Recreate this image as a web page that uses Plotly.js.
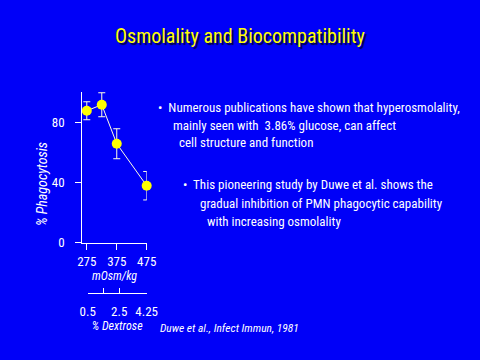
<!DOCTYPE html>
<html><head><meta charset="utf-8">
<script src="https://cdn.plot.ly/plotly-3.0.1.min.js"></script>
<style>
html,body{margin:0;padding:0;background:#0000f8;}
.gtitle{text-shadow:2px 2px 1px #000040;}
</style>
</head><body>
<div id="chart" style="width:480px;height:360px"></div>
<script>
// Data (Duwe et al., 1981)
const osmolality = [275, 325, 375, 475];
const phagocytosis = [88, 92, 66, 38];
const phagocytosisErr = [6, 8, 10, 9.5];
const osmTickVals = [275, 375, 475];
const osmTickText = ["275", "375", "475"];
const phagTickVals = [0, 40, 80];
const phagTickText = ["0", "40", "80"];
const dextroseTickVals = [0.5, 1.5, 2.5, 4.25];
const dextroseTickText = ["0.5", "", "2.5", "4.25"];

const titleText = "Osmolality and Biocompatibility";
const yTitleText = "% Phagocytosis";
const bulletOneLines = [
  "•  Numerous publications have shown that hyperosmolality,",
  "mainly seen with  3.86% glucose, can affect",
  "cell structure and function"
];
const bulletTwoLines = [
  "•  This pioneering study by Duwe et al. shows the",
  "gradual inhibition of PMN phagocytic capability",
  "with increasing osmolality"
];
const citation = "Duwe et al., Infect Immun, 1981";

const NARROW = '"Roboto Condensed", "Liberation Sans Narrow", sans-serif';
const W = 480, H = 360;
const px = x => x / W;
const py = y => 1 - y / H;

const traces = [
  {
    x: osmolality, y: phagocytosis, xaxis: 'x', yaxis: 'y',
    type: 'scatter', mode: 'lines+markers',
    line: {color: '#ffffe0', width: 1},
    marker: {color: '#ffff00', size: 10},
    error_y: {type: 'data', array: phagocytosisErr, visible: true, color: '#ffffe0', thickness: 1, width: 3.5},
    cliponaxis: false, hoverinfo: 'none'
  },
  {
    x: [dextroseTickVals[0]], y: [null], xaxis: 'x2', yaxis: 'y',
    type: 'scatter', mode: 'markers', showlegend: false, hoverinfo: 'none'
  }
];

const bodyFont = {family: NARROW, size: 13, color: '#ffffff'};
const annotations = [];
const b1x = [156, 171, 177], b1y = [107, 125, 143];
const b2x = [181, 198, 205], b2y = [184, 203, 221];
bulletOneLines.forEach((t, i) => annotations.push({
  text: t, xref: 'paper', yref: 'paper', x: px(b1x[i]), y: py(b1y[i]),
  xanchor: 'left', yanchor: 'middle', showarrow: false, font: bodyFont
}));
bulletTwoLines.forEach((t, i) => annotations.push({
  text: t, xref: 'paper', yref: 'paper', x: px(b2x[i]), y: py(b2y[i]),
  xanchor: 'left', yanchor: 'middle', showarrow: false, font: bodyFont
}));
annotations.push({
  text: '<i>' + citation + '</i>', xref: 'paper', yref: 'paper', x: px(229), y: py(328),
  xanchor: 'center', yanchor: 'middle', showarrow: false,
  font: {family: NARROW, size: 11.5, color: '#ffffff'}
});
annotations.push({
  text: '<i>' + yTitleText + '</i>', xref: 'paper', yref: 'paper', x: px(42), y: py(184),
  xanchor: 'center', yanchor: 'middle', showarrow: false, textangle: -90,
  font: {family: NARROW, size: 14, color: '#ffffff'}
});

const axisCommon = {
  showgrid: false, zeroline: false, showline: true, linecolor: '#ffffff', linewidth: 1,
  tickcolor: '#ffffff', tickwidth: 1, ticklen: 6,
  tickfont: {family: NARROW, size: 13, color: '#ffffff'},
  fixedrange: true
};

const layout = {
  width: W, height: H,
  margin: {l: 0, r: 0, t: 0, b: 0},
  paper_bgcolor: '#0000f8', plot_bgcolor: 'rgba(0,0,0,0)',
  showlegend: false,
  title: {text: titleText, x: 0.5, xanchor: 'center', y: py(36), yanchor: 'middle',
          font: {family: NARROW, size: 20, color: '#ffff00'}},
  xaxis: Object.assign({}, axisCommon, {
    domain: [px(82.3), px(146.7)], range: [260, 475], anchor: 'y',
    ticks: 'outside', tickvals: osmTickVals, ticktext: osmTickText, ticklabelstandoff: 1,
    title: {text: '<i>mOsm/kg</i>', font: {family: NARROW, size: 12, color: '#ffffff'}, standoff: 0}
  }),
  xaxis2: Object.assign({}, axisCommon, {
    domain: [px(87.7), px(146.7)], range: [0.5, 4.25], anchor: 'free', position: py(293.3),
    ticks: 'inside', ticklen: 5, tickvals: dextroseTickVals, ticktext: dextroseTickText, ticklabelstandoff: 6,
    title: {text: '<i>% Dextrose</i>', font: {family: NARROW, size: 12, color: '#ffffff'}, standoff: 2}
  }),
  yaxis: Object.assign({}, axisCommon, {
    domain: [py(242.7), py(91.7)], range: [0, 100.7], anchor: 'x',
    ticks: 'outside', tickvals: phagTickVals, ticktext: phagTickText, ticklabelstandoff: 8
  }),
  annotations: annotations
};

Plotly.newPlot('chart', traces, layout, {staticPlot: true, displayModeBar: false});
</script>
</body></html>
